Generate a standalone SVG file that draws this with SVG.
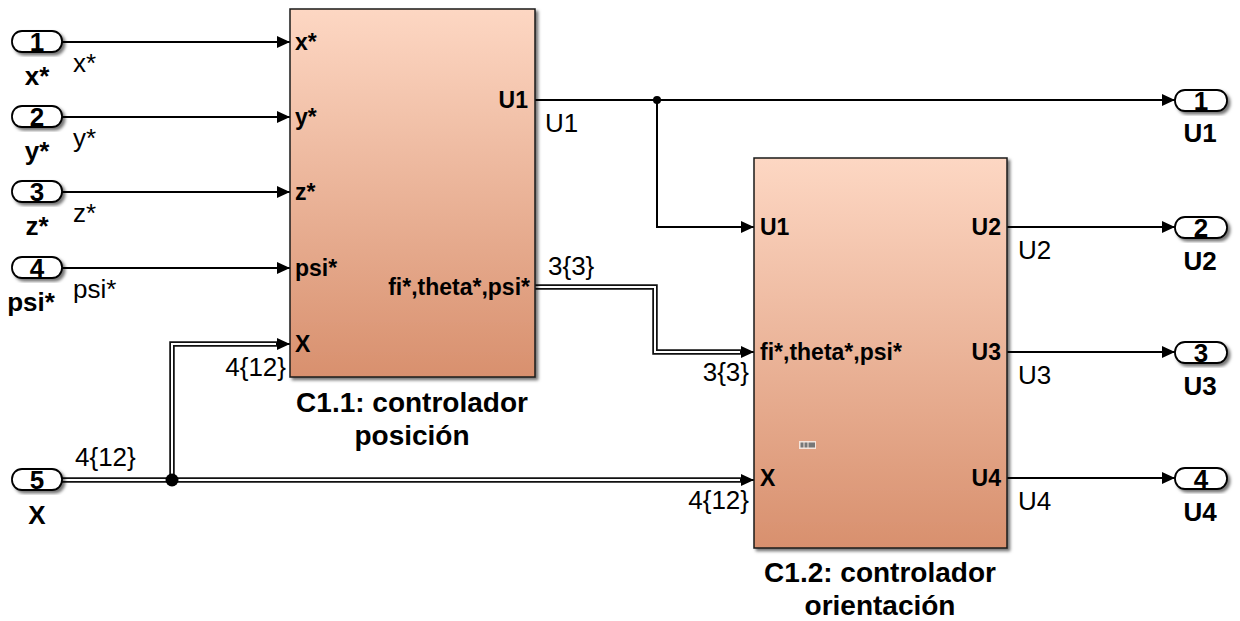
<svg xmlns="http://www.w3.org/2000/svg" width="1240" height="621" viewBox="0 0 1240 621">
<defs>
  <linearGradient id="blk" x1="0" y1="0" x2="0" y2="1">
    <stop offset="0" stop-color="#FDD7C3"/>
    <stop offset="1" stop-color="#D8906E"/>
  </linearGradient>
  <filter id="sh" x="-10%" y="-10%" width="130%" height="130%">
    <feDropShadow dx="2.5" dy="2.5" stdDeviation="1.5" flood-color="#000" flood-opacity="0.55"/>
  </filter>
  <marker id="arr" viewBox="0 0 13 12" refX="13" refY="6" markerWidth="13" markerHeight="12" markerUnits="userSpaceOnUse" orient="auto">
    <path d="M0,0 L13,6 L0,12 z" fill="#000"/>
  </marker>
</defs>
<style>
  .blk { fill: url(#blk); stroke: #1a1a1a; stroke-width: 1.5; filter: url(#sh); }
  .port { fill: #fff; stroke: #000; stroke-width: 1.8; filter: url(#sh); }
  .num { font-family: "Liberation Sans", Arial, sans-serif; font-weight: bold; font-size: 26px; text-anchor: middle; fill: #000; }
  .plab { font-family: "Liberation Sans", Arial, sans-serif; font-weight: bold; font-size: 26px; text-anchor: middle; fill: #000; }
  .pin { font-family: "Liberation Sans", Arial, sans-serif; font-weight: bold; font-size: 23px; fill: #000; }
  .pout { font-family: "Liberation Sans", Arial, sans-serif; font-weight: bold; font-size: 23px; fill: #000; text-anchor: end; }
  .title { font-family: "Liberation Sans", Arial, sans-serif; font-weight: bold; font-size: 28px; text-anchor: middle; fill: #000; }
  .sig { font-family: "Liberation Sans", Arial, sans-serif; font-size: 26px; fill: #000; }
  .sigr { font-family: "Liberation Sans", Arial, sans-serif; font-size: 26px; fill: #000; text-anchor: end; }
  .ln { fill: none; stroke: #000; stroke-width: 2; }
  .bus { fill: none; stroke: #111; stroke-width: 5.5; }
  .busin { fill: none; stroke: #fff; stroke-width: 2; }
</style>

<g id="connectors">
  <path class="ln" d="M62,42 H290" marker-end="url(#arr)"/>
  <path class="ln" d="M62,117 H290" marker-end="url(#arr)"/>
  <path class="ln" d="M62,192 H290" marker-end="url(#arr)"/>
  <path class="ln" d="M62,268 H290" marker-end="url(#arr)"/>
  <path class="ln" d="M535,100 H1175" marker-end="url(#arr)"/>
  <path class="ln" d="M657,100 V227 H754" marker-end="url(#arr)"/>
  <circle cx="657" cy="100" r="4" fill="#000"/>
  <path class="ln" d="M1007,227 H1175" marker-end="url(#arr)"/>
  <path class="ln" d="M1007,352 H1175" marker-end="url(#arr)"/>
  <path class="ln" d="M1007,478 H1175" marker-end="url(#arr)"/>
  <path class="bus" d="M62,480 H742"/>
  <path class="bus" d="M172,480 V344 H278"/>
  <path class="busin" d="M62,480 H742"/>
  <path class="busin" d="M172,480 V344 H278"/>
  <path class="ln" d="M740,480 H754" marker-end="url(#arr)"/>
  <path class="ln" d="M276,344 H290" marker-end="url(#arr)"/>
  <circle cx="172" cy="480" r="6.5" fill="#000"/>
  <path class="bus" d="M535,287 H655 V352 H742"/>
  <path class="busin" d="M535,287 H655 V352 H742"/>
  <path class="ln" d="M740,352 H754" marker-end="url(#arr)"/>
  <text class="sig" x="73" y="72">x*</text>
  <text class="sig" x="73" y="147">y*</text>
  <text class="sig" x="73" y="222">z*</text>
  <text class="sig" x="73" y="298">psi*</text>
  <text class="sig" x="75" y="466">4{12}</text>
  <text class="sigr" x="286" y="376">4{12}</text>
  <text class="sig" x="545" y="132">U1</text>
  <text class="sig" x="548" y="275">3{3}</text>
  <text class="sigr" x="749" y="381">3{3}</text>
  <text class="sigr" x="749" y="509">4{12}</text>
  <text class="sig" x="1018" y="259">U2</text>
  <text class="sig" x="1018" y="384">U3</text>
  <text class="sig" x="1018" y="510">U4</text>
</g>

<g id="in1">
  <rect class="port" x="12" y="31" width="50" height="21" rx="10" ry="10"/>
  <text class="num" x="37" y="51">1</text>
  <text class="plab" x="37" y="85">x*</text>
</g>
<g id="in2">
  <rect class="port" x="12" y="106" width="50" height="21" rx="10" ry="10"/>
  <text class="num" x="37" y="126">2</text>
  <text class="plab" x="37" y="160">y*</text>
</g>
<g id="in3">
  <rect class="port" x="12" y="181" width="50" height="21" rx="10" ry="10"/>
  <text class="num" x="37" y="201">3</text>
  <text class="plab" x="37" y="235">z*</text>
</g>
<g id="in4">
  <rect class="port" x="12" y="257" width="50" height="21" rx="10" ry="10"/>
  <text class="num" x="37" y="277">4</text>
  <text class="plab" x="31" y="311">psi*</text>
</g>
<g id="in5">
  <rect class="port" x="12" y="469" width="50" height="21" rx="10" ry="10"/>
  <text class="num" x="37" y="489">5</text>
  <text class="plab" x="37" y="524">X</text>
</g>

<g id="c11">
  <rect class="blk" x="290" y="9" width="245" height="368"/>
  <text class="pin" x="295" y="50">x*</text>
  <text class="pin" x="295" y="125">y*</text>
  <text class="pin" x="295" y="200">z*</text>
  <text class="pin" x="295" y="276">psi*</text>
  <text class="pin" x="295" y="352">X</text>
  <text class="pout" x="528" y="108">U1</text>
  <text class="pout" x="530" y="295">fi*,theta*,psi*</text>
  <text class="title" x="412" y="412">C1.1: controlador</text>
  <text class="title" x="412" y="445">posición</text>
</g>

<g id="c12">
  <rect class="blk" x="754" y="158" width="253" height="390"/>
  <text class="pin" x="760" y="235">U1</text>
  <text class="pin" x="760" y="360">fi*,theta*,psi*</text>
  <text class="pin" x="760" y="486">X</text>
  <text class="pout" x="1001" y="235">U2</text>
  <text class="pout" x="1001" y="360">U3</text>
  <text class="pout" x="1001" y="486">U4</text>
  <rect x="799" y="441" width="17" height="8" fill="#f4e4dc"/>
  <rect x="800.5" y="442.5" width="3" height="5" fill="#777"/>
  <rect x="804.5" y="442.5" width="3" height="5" fill="#777"/>
  <rect x="808.5" y="442.5" width="6.5" height="5" fill="#777"/>
  <text class="title" x="880" y="582">C1.2: controlador</text>
  <text class="title" x="880" y="615">orientación</text>
</g>

<g id="out1">
  <rect class="port" x="1175" y="90" width="52" height="21" rx="10" ry="10"/>
  <text class="num" x="1201" y="110">1</text>
  <text class="plab" x="1200" y="142">U1</text>
</g>
<g id="out2">
  <rect class="port" x="1175" y="217" width="52" height="21" rx="10" ry="10"/>
  <text class="num" x="1201" y="237">2</text>
  <text class="plab" x="1200" y="270">U2</text>
</g>
<g id="out3">
  <rect class="port" x="1175" y="342" width="52" height="21" rx="10" ry="10"/>
  <text class="num" x="1201" y="362">3</text>
  <text class="plab" x="1200" y="395">U3</text>
</g>
<g id="out4">
  <rect class="port" x="1175" y="468" width="52" height="21" rx="10" ry="10"/>
  <text class="num" x="1201" y="488">4</text>
  <text class="plab" x="1200" y="521">U4</text>
</g>
</svg>
